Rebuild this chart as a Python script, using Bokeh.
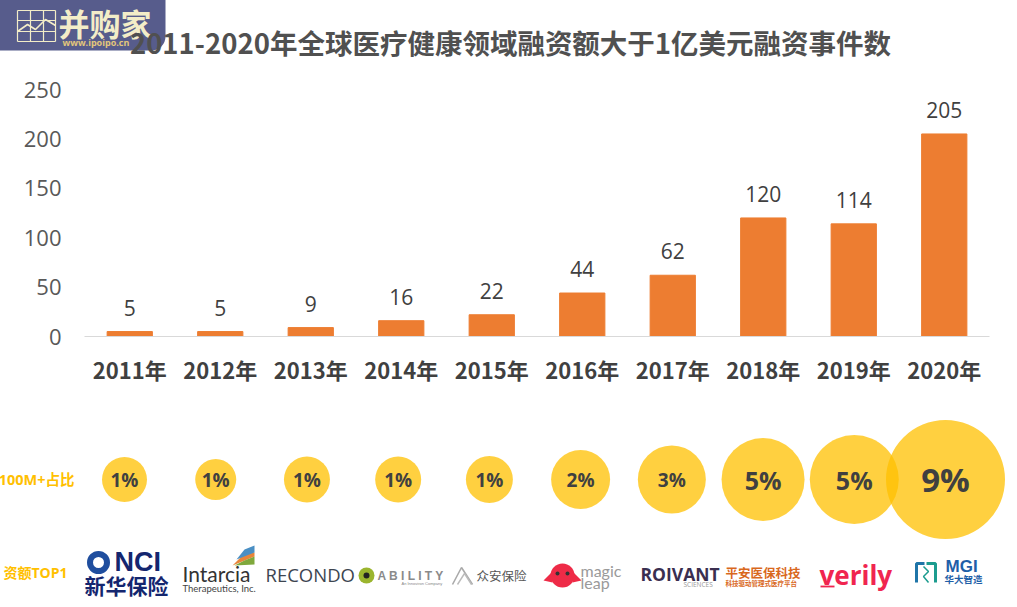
from bokeh.plotting import figure
from bokeh.layouts import column
from bokeh.core.properties import value
from bokeh.models import Range1d, LinearAxis, FixedTicker, ColumnDataSource
from bokeh.embed import file_html
from bokeh.resources import INLINE

years = [2011, 2012, 2013, 2014, 2015, 2016, 2017, 2018, 2019, 2020]
deals = [5, 5, 9, 16, 22, 44, 62, 120, 114, 205]
share_labels = ["1%", "1%", "1%", "1%", "1%", "2%", "3%", "5%", "5%", "9%"]
y_ticks = [0, 50, 100, 150, 200, 250]
title_text = "2011-2020年全球医疗健康领域融资额大于1亿美元融资事件数"
row_label_share = "100M+占比"
row_label_top = "资额TOP1"

# styling of the bubble row
bubble_diam = [45, 41, 46, 46, 47, 59, 68, 83, 89, 119]
bubble_font = [19, 19, 19, 19, 19, 19, 19, 25, 25, 33]

CJK = "Noto Sans CJK SC"
LAT = "Open Sans"
MIX = "Open Sans, Noto Sans CJK SC"
W, H = 1017, 607
L, R, T, B = 84, 989, 89, 336
H1, H2 = 400, 140
H3 = H - H1 - H2

p = figure(width=W, height=H1, output_backend="svg", toolbar_location=None,
           x_range=Range1d(2010.5, 2020.5), y_range=Range1d(0, 250),
           x_axis_type=None, y_axis_type=None,
           min_border_left=L, min_border_right=W - R, min_border_top=T, min_border_bottom=H1 - B,
           outline_line_color=None, background_fill_color="white", border_fill_color="white",
           margin=(0, 0, 0, 0))
p.grid.visible = False
p.extra_x_ranges = {"px": Range1d(L, R)}
p.extra_y_ranges = {"px": Range1d(B, T)}

xax = LinearAxis(ticker=FixedTicker(ticks=years),
                 major_label_overrides={y: f"{y}年" for y in years})
xax.axis_line_color = "#D9D9D9"
xax.major_tick_line_color = None
xax.minor_tick_line_color = None
xax.major_label_text_font = CJK
xax.major_label_text_font_style = "bold"
xax.major_label_text_font_size = "22px"
xax.major_label_text_color = "#404040"
xax.major_label_standoff = 10
p.add_layout(xax, "below")

yax = LinearAxis(ticker=FixedTicker(ticks=y_ticks))
yax.axis_line_color = None
yax.major_tick_line_color = None
yax.minor_tick_line_color = None
yax.major_label_text_font = LAT
yax.major_label_text_font_size = "22px"
yax.major_label_text_color = "#595959"
yax.major_label_standoff = 17
p.add_layout(yax, "left")

p.vbar(x=years, top=deals, width=0.5, color="#ED7D31")
p.text(x=years, y=deals, text=[str(d) for d in deals], text_align="center",
       text_baseline="middle", y_offset=-24, text_font=value(LAT), text_font_size="21px",
       text_color="#404040")


def strip(h, top):
    f = figure(width=W, height=h, output_backend="svg", toolbar_location=None,
               x_range=Range1d(2011 - (124 - L) / 91.22, 2020 + (R - 945) / 91.22),
               y_range=Range1d(top + h, top), x_axis_type=None, y_axis_type=None,
               min_border_left=L, min_border_right=W - R, min_border_top=0, min_border_bottom=0,
               outline_line_color=None, background_fill_color="white",
               border_fill_color="white", margin=(0, 0, 0, 0))
    f.grid.visible = False
    f.extra_x_ranges = {"px": Range1d(L, R)}
    f.extra_y_ranges = {"px": Range1d(top + h, top)}
    return f


q = strip(H2, H1)
z = strip(H3, H1 + H2)


def TX(f, x, y, s, size, color, bold=False, font=CJK, align="left"):
    f.text(x=[x], y=[y], text=[s], x_range_name="px", y_range_name="px", level="overlay",
           text_align=align, text_baseline="middle", text_font=value(font),
           text_font_size=f"{size}px", text_color=color,
           text_font_style="bold" if bold else "normal")


def Q(f, l, r, t, b, color, **kw):
    f.quad(left=[l], right=[r], top=[t], bottom=[b], x_range_name="px", y_range_name="px",
           level="overlay", fill_color=color, line_color=None, **kw)


def G(f, xs, ys, color):
    f.patch(x=xs, y=ys, x_range_name="px", y_range_name="px", level="overlay",
            fill_color=color, line_color=None)


def S(f, xs, ys, color, w=1.0):
    f.line(x=xs, y=ys, x_range_name="px", y_range_name="px", level="overlay",
           line_color=color, line_width=w)


def C(f, x, y, d, color):
    f.scatter(x=[x], y=[y], size=d, x_range_name="px", y_range_name="px", level="overlay",
              fill_color=color, line_color=None)


# site badge
Q(p, -20, 165, -20, 50, "#575C8C", border_radius=14)
cream = "#F3EDC8"
for gx in (17, 30, 43, 55):
    S(p, [gx, gx], [10, 41], cream, 1.2)
for gy in (10, 20, 31, 41):
    S(p, [17, 55], [gy, gy], cream, 1.2)
S(p, [17, 27, 35, 45, 55], [31, 24, 29, 19, 25], cream, 1.6)
TX(p, 58, 22, "并购家", 31, cream, True)
TX(p, 62, 42, "www.ipoipo.cn", 9, "#E3C77B", True, LAT)

TX(p, 510, 41, title_text, 27.5, "#505050", True, align="center")

# bubble row
bub_y = [479] * len(years)
bub = ColumnDataSource(dict(x=years, y=bub_y, d=bubble_diam, t=share_labels,
                            f=[f"{s}px" for s in bubble_font]))
q.scatter(x="x", y="y", size="d", source=bub, y_range_name="px", level="overlay",
          fill_color="#FFC000", fill_alpha=0.75, line_color=None)
q.text(x="x", y="y", text="t", text_font_size="f", source=bub, level="overlay",
       y_range_name="px", text_align="center", text_baseline="middle",
       text_font=value(LAT), text_font_style="bold", text_color="#404040")
TX(q, 74, 479, row_label_share, 14.5, "#FFC000", True, MIX, align="right")
TX(z, 67, 572, row_label_top, 14, "#FFC000", True, MIX, align="right")

# company marks
navy = "#14266F"
C(z, 98, 562, 23, "#1F4E9E")
C(z, 98, 562, 11, "white")
TX(z, 114, 561, "NCI", 27, navy, True, "Liberation Sans")
TX(z, 84, 584, "新华保险", 21, navy, True)

TX(z, 182, 573, "Intarcia", 21, "#333333", False, "Lato")
TX(z, 182, 588, "Therapeutics, Inc.", 9.5, "#444444", False, "Lato")
G(z, [232, 243, 254, 254], [565, 554, 552, 556], "#E8853A")
G(z, [236, 244, 254, 254], [559, 549, 545, 552], "#4A8FC4")
G(z, [234, 244, 254, 254], [565, 560, 556, 564], "#7FA83C")

TX(z, 265, 574, "RECONDO", 18.5, "#3D4550", False, "Open Sans")

C(z, 366, 575, 16, "#9BB52E")
C(z, 366, 575, 6, "#222222")
TX(z, 377, 575, "A B I L I T Y", 12, "#8A8A8A", True, "Liberation Sans")
TX(z, 401, 583, "An Innoviron Company", 4, "#888888", False, "Liberation Sans")

S(z, [452, 461, 472], [584, 567, 584], "#AAAAAA", 1.6)
S(z, [457, 464, 471], [584, 573, 584], "#BBBBBB", 1.4)
TX(z, 476, 575, "众安保险", 12.5, "#555555")

C(z, 562, 575, 24, "#EE2B47")
G(z, [543, 551, 552], [580, 572, 582], "#EE2B47")
G(z, [581, 573, 572], [580, 572, 582], "#EE2B47")
C(z, 557, 573, 4, "#333333")
C(z, 567, 573, 4, "#333333")
TX(z, 580, 570, "magic", 16, "#9A9A9A", False, "Lato")
TX(z, 580, 582, "leap", 16, "#9A9A9A", False, "Lato")

TX(z, 640, 573, "ROIVANT", 17.5, "#3A2F50", True, "Open Sans")
TX(z, 683, 584, "SCIENCES", 6.5, "#999999", False, "Open Sans")

TX(z, 725, 572, "平安医保科技", 12.5, "#D9681D", True)
TX(z, 725, 582, "科技驱动管理式医疗平台", 6.5, "#D9681D", True)

TX(z, 819, 574, "verily", 26, "#F0254F", True, "Open Sans")
S(z, [820, 834], [586, 586], "#F0254F", 1.8)

S(z, [916, 916, 924], [582, 563, 563], "#1F75A8", 3)
S(z, [926, 935, 935], [563, 563, 582], "#1C9C8F", 3)
S(z, [923, 928, 923, 928], [566, 571, 576, 582], "#1C9C8F", 1.5)
TX(z, 945, 566, "MGI", 17, "#1F5FA8", True, "Liberation Sans")
TX(z, 944, 578, "华大智造", 9.5, "#1F5FA8", True)

page = column(p, q, z, spacing=0, margin=(0, 0, 0, 0))
open("out.html", "w").write(file_html(page, INLINE))
